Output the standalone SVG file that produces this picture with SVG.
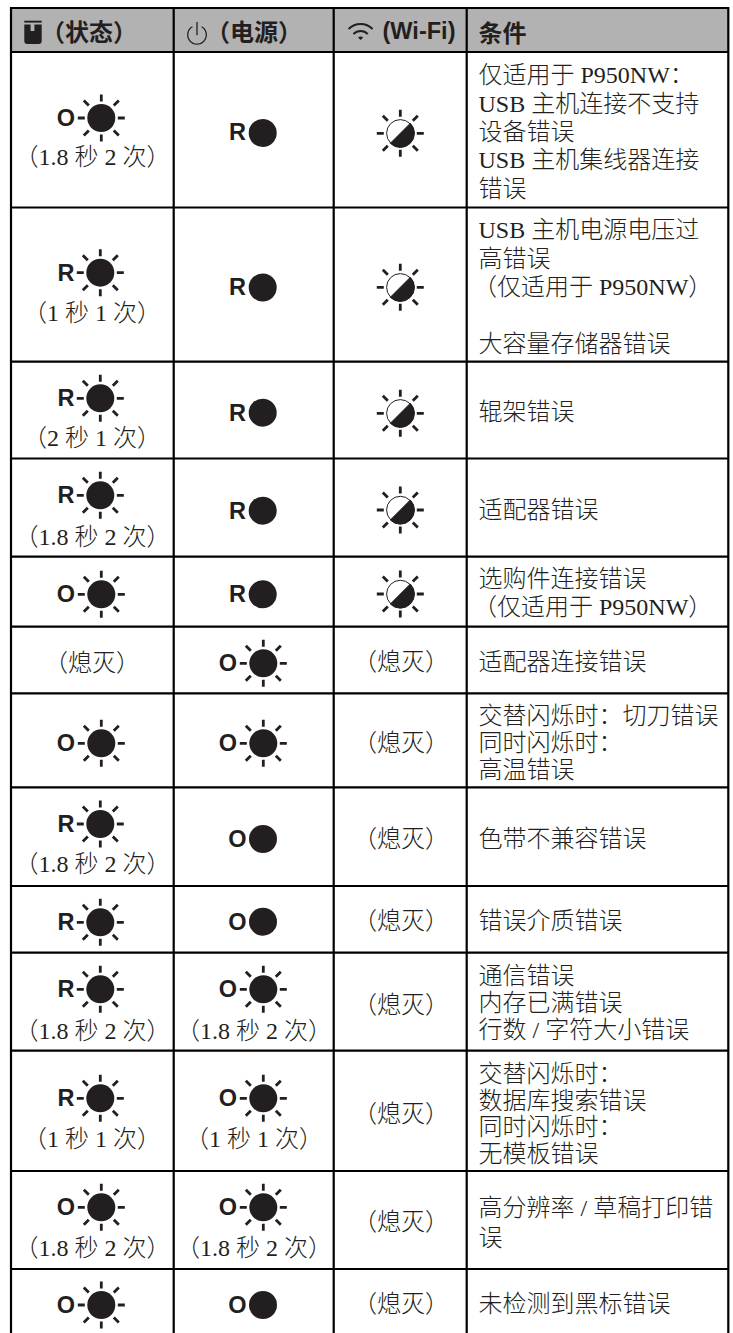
<svg xmlns="http://www.w3.org/2000/svg" xmlns:xlink="http://www.w3.org/1999/xlink" width="733" height="1333" viewBox="0 0 733 1333">
<style>
text{fill:#231f20}
.t{font-family:"Liberation Serif","Noto Sans CJK SC",serif;font-size:24px;font-weight:300}
.m{text-anchor:middle}
.h{font-family:"Noto Sans CJK SC","Liberation Sans",sans-serif;font-size:24px;font-weight:700}
.l{font-family:"Liberation Sans",sans-serif;font-size:23.5px;font-weight:700;text-anchor:middle}
.g{stroke:#000;stroke-width:2.2;fill:none}
</style>
<defs>
<g id="rays" stroke="#231f20" stroke-width="2.8" fill="none">
<path d="M0-16.5V-23.5M0 16.5V23.5M-16.5 0H-23.5M16.5 0H23.5M12.5-12.5L17.5-17.5M12.5 12.5L17.5 17.5M-12.5-12.5L-17.5-17.5M-12.5 12.5L-17.5 17.5"/>
</g>
<g id="sun"><circle r="14" fill="#231f20"/><use href="#rays"/></g>
<g id="half"><circle r="13.7" fill="#fff" stroke="#231f20" stroke-width="1"/><path d="M-10 10A14 14 0 0 0 10-10Z" fill="#231f20" stroke="#231f20"/><use href="#rays"/></g>
<circle id="dot" r="14" fill="#231f20"/>
</defs>

<rect x="11" y="8" width="717" height="44" fill="#b2b2b2"/>

<g id="header">
<path d="M24.3 20.7H41.7V22.6H24.3Z" fill="#231f20"/>
<path d="M24.3 24.5H30.6V31H34.4V24.5H41.7V41A3 3 0 0 1 38.7 44H27.3A3 3 0 0 1 24.3 41Z" fill="#231f20"/>
<text class="h" x="41" y="41">（状态）</text>
<path d="M192.4 26.8A9.3 9.3 0 1 0 201.6 26.8M197 22V35.3" fill="none" stroke="#231f20" stroke-width="1.3"/>
<text class="h" x="206" y="41">（电源）</text>
<path d="M348.6 29A17 17 0 0 1 372.6 29M353.4 34A10 10 0 0 1 367.8 34" fill="none" stroke="#231f20" stroke-width="2"/>
<path d="M358 37.5A4 4 0 0 1 363.2 37.5L360.6 40Z" fill="#231f20"/>
<text x="382.5" y="38.5" font-family="Liberation Sans" font-size="23" font-weight="700" textLength="73" lengthAdjust="spacingAndGlyphs">(Wi-Fi)</text>
<text class="h" x="478.5" y="42">条件</text>
</g>

<g id="row1">
<text class="l" x="66" y="125.5">O</text><use href="#sun" x="101.3" y="118"/>
<text class="t m" x="92.5" y="165">（1.8 秒 2 次）</text>
<text class="l" x="237.5" y="140">R</text><use href="#dot" x="262.7" y="133"/>
<use href="#half" x="400.3" y="133.3"/>
<text class="t" x="478.5" y="83.3">仅适用于 P950NW：</text>
<text class="t" x="478.5" y="111.7">USB 主机连接不支持</text>
<text class="t" x="478.5" y="140">设备错误</text>
<text class="t" x="478.5" y="168.3">USB 主机集线器连接</text>
<text class="t" x="478.5" y="196.6">错误</text>
</g>
<g id="row2">
<text class="l" x="66" y="280.5">R</text><use href="#sun" x="100.3" y="272.7"/>
<text class="t m" x="92" y="320.5">（1 秒 1 次）</text>
<text class="l" x="237.5" y="295">R</text><use href="#dot" x="262.7" y="287.5"/>
<use href="#half" x="400.3" y="287.3"/>
<text class="t" x="478.5" y="238.3">USB 主机电源电压过</text>
<text class="t" x="478.5" y="266.6">高错误</text>
<text class="t" x="473" y="295">（仅适用于 P950NW）</text>
<text class="t" x="478.5" y="351.5">大容量存储器错误</text>
</g>
<g id="row3">
<text class="l" x="66" y="406">R</text><use href="#sun" x="100.3" y="398.3"/>
<text class="t m" x="92" y="446">（2 秒 1 次）</text>
<text class="l" x="237.5" y="420.5">R</text><use href="#dot" x="262.7" y="412.7"/>
<use href="#half" x="400.3" y="413.3"/>
<text class="t" x="478.5" y="420">辊架错误</text>
</g>
<g id="row4">
<text class="l" x="66" y="503">R</text><use href="#sun" x="100.3" y="495.3"/>
<text class="t m" x="92.5" y="545">（1.8 秒 2 次）</text>
<text class="l" x="237.5" y="518.5">R</text><use href="#dot" x="262.7" y="510.7"/>
<use href="#half" x="400.3" y="510"/>
<text class="t" x="478.5" y="518">适配器错误</text>
</g>
<g id="row5">
<text class="l" x="66" y="602">O</text><use href="#sun" x="101.3" y="594.3"/>
<text class="l" x="237.5" y="602">R</text><use href="#dot" x="262.7" y="594.3"/>
<use href="#half" x="400.3" y="594"/>
<text class="t" x="478.5" y="587">选购件连接错误</text>
<text class="t" x="473" y="614.5">（仅适用于 P950NW）</text>
</g>
<g id="row6">
<text class="t m" x="92" y="671">（熄灭）</text>
<text class="l" x="228" y="671">O</text><use href="#sun" x="263.3" y="663.3"/>
<text class="t m" x="401" y="670">（熄灭）</text>
<text class="t" x="478.5" y="670">适配器连接错误</text>
</g>
<g id="row7">
<text class="l" x="66" y="751">O</text><use href="#sun" x="101.3" y="743.3"/>
<text class="l" x="228" y="751">O</text><use href="#sun" x="263.3" y="743.3"/>
<text class="t m" x="401" y="751">（熄灭）</text>
<text class="t" x="478.5" y="724">交替闪烁时：切刀错误</text>
<text class="t" x="478.5" y="751">同时闪烁时：</text>
<text class="t" x="478.5" y="778">高温错误</text>
</g>
<g id="row8">
<text class="l" x="66" y="831.5">R</text><use href="#sun" x="100.3" y="824"/>
<text class="t m" x="92.5" y="872">（1.8 秒 2 次）</text>
<text class="l" x="237.5" y="846.5">O</text><use href="#dot" x="263" y="839"/>
<text class="t m" x="401" y="847">（熄灭）</text>
<text class="t" x="478.5" y="847">色带不兼容错误</text>
</g>
<g id="row9">
<text class="l" x="66" y="930">R</text><use href="#sun" x="100.3" y="922.3"/>
<text class="l" x="237.5" y="929.5">O</text><use href="#dot" x="263" y="921.7"/>
<text class="t m" x="401" y="929">（熄灭）</text>
<text class="t" x="478.5" y="929">错误介质错误</text>
</g>
<g id="row10">
<text class="l" x="66" y="997">R</text><use href="#sun" x="100.3" y="989.3"/>
<text class="t m" x="92.5" y="1039">（1.8 秒 2 次）</text>
<text class="l" x="228" y="997">O</text><use href="#sun" x="263.3" y="989.3"/>
<text class="t m" x="254" y="1039">（1.8 秒 2 次）</text>
<text class="t m" x="401" y="1013">（熄灭）</text>
<text class="t" x="478.5" y="984">通信错误</text>
<text class="t" x="478.5" y="1011">内存已满错误</text>
<text class="t" x="478.5" y="1038">行数 / 字符大小错误</text>
</g>
<g id="row11">
<text class="l" x="66" y="1106">R</text><use href="#sun" x="100.3" y="1098.3"/>
<text class="t m" x="92" y="1147">（1 秒 1 次）</text>
<text class="l" x="228" y="1106">O</text><use href="#sun" x="263.3" y="1098.3"/>
<text class="t m" x="254" y="1147">（1 秒 1 次）</text>
<text class="t m" x="401" y="1121.5">（熄灭）</text>
<text class="t" x="478.5" y="1082">交替闪烁时：</text>
<text class="t" x="478.5" y="1108.5">数据库搜索错误</text>
<text class="t" x="478.5" y="1135">同时闪烁时：</text>
<text class="t" x="478.5" y="1161.5">无模板错误</text>
</g>
<g id="row12">
<text class="l" x="66" y="1215">O</text><use href="#sun" x="101.3" y="1207.3"/>
<text class="t m" x="92.5" y="1256">（1.8 秒 2 次）</text>
<text class="l" x="228" y="1215">O</text><use href="#sun" x="263.3" y="1207.3"/>
<text class="t m" x="254" y="1256">（1.8 秒 2 次）</text>
<text class="t m" x="401" y="1229.5">（熄灭）</text>
<text class="t" x="478.5" y="1216">高分辨率 / 草稿打印错</text>
<text class="t" x="478.5" y="1246">误</text>
</g>
<g id="row13">
<text class="l" x="66" y="1312.5">O</text><use href="#sun" x="101.3" y="1305"/>
<text class="l" x="237.5" y="1312.5">O</text><use href="#dot" x="263" y="1305"/>
<text class="t m" x="401" y="1312">（熄灭）</text>
<text class="t" x="478.5" y="1312">未检测到黑标错误</text>
</g>

<g id="grid" class="g">
<path d="M10 8H729M10 52H729M10 207.5H729M10 361.7H729M10 458.5H729M10 556.7H729M10 626.7H729M10 693.3H729M10 787.3H729M10 886H729M10 952.7H729M10 1050.7H729M10 1171H729M10 1269H729"/>
<path d="M11 7V1333M173.7 8V1333M333.7 8V1333M466.7 8V1333M728.3 7V1333"/>
</g>
</svg>
